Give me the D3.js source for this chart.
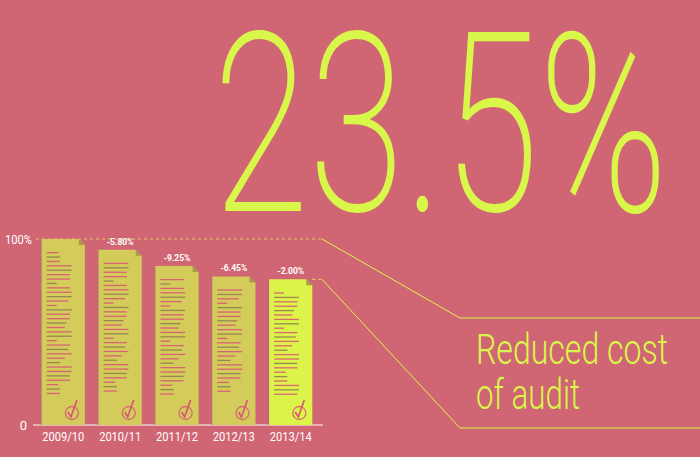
<!DOCTYPE html><html><head><script src="https://cdn.jsdelivr.net/npm/d3@7"></script>
<style>body{margin:0;background:#d06673}svg{display:block}</style></head><body><svg id="c" width="700" height="457"></svg>
<script>
const categories=["2009/10","2010/11","2011/12","2012/13","2013/14"];
const values=[100,94.2,85.5,79.9,78.3];
const changes=["","-5.80%","-9.25%","-6.45%","-2.00%"];
const yTicks=["100%","0"];
const svg=d3.select("#c");
const bg="#d06673",yel="#d9f74a",bar="#d4cc5a";
svg.append("rect").attr("width",700).attr("height",457).attr("fill",bg);
const x=d3.scaleBand().domain(categories).range([36,318]).paddingInner(0.24).paddingOuter(0.1);
const y=d3.scaleLinear().domain([0,100]).range([425,239]);
svg.append("text").attr("x",213).attr("y",211).attr("font-family","Roboto").attr("font-weight",200)
 .attr("font-size",250).attr("fill",yel).attr("textLength",455).attr("lengthAdjust","spacingAndGlyphs").text("23.5%");
[["Reduced cost",364],["of audit",409]].forEach(([t,yy])=>svg.append("text").attr("x",476).attr("y",yy)
 .attr("font-family","Roboto").attr("font-weight",300).attr("font-size",42).attr("fill",yel)
 .attr("textLength",t.length>9?192:104).attr("lengthAdjust","spacingAndGlyphs").text(t));
svg.append("line").attr("x1",36).attr("x2",322).attr("y1",y(100)).attr("y2",y(100)).attr("stroke","#e6c85a").attr("stroke-dasharray","3,3").attr("stroke-width",1.2);
svg.append("polyline").attr("points",`322,${y(100)} 460,318 700,318`).attr("fill","none").attr("stroke",yel).attr("stroke-width",1);
svg.append("line").attr("x1",x(categories[4])+x.bandwidth()).attr("x2",322).attr("y1",y(values[4])).attr("y2",y(values[4])).attr("stroke","#e6c85a").attr("stroke-dasharray","3,3").attr("stroke-width",1.2);
svg.append("polyline").attr("points",`322,${y(values[4])} 460,428 700,428`).attr("fill","none").attr("stroke",yel).attr("stroke-width",1);
svg.append("line").attr("x1",33).attr("x2",323).attr("y1",y(0)).attr("y2",y(0)).attr("stroke","#fff").attr("stroke-width",1);
svg.append("text").attr("x",32).attr("y",y(100)+5).attr("text-anchor","end").attr("fill","#fff").attr("font-family","Roboto").attr("font-size",12).attr("textLength",27).attr("lengthAdjust","spacingAndGlyphs").text(yTicks[0]);
svg.append("text").attr("x",27).attr("y",y(0)+5).attr("text-anchor","end").attr("fill","#fff").attr("font-family","Roboto").attr("font-size",13).text(yTicks[1]);
const lw=[0.35,0.4,0.4,0.75,0.75,0.7,0.7,0.3,0.7,0.75,0.75,0.65,0.3,0.75,0.7,0.7,0.6,0.55,0.75,0.75,0.3,0.7,0.65,0.75,0.55,0.4,0.75,0.75,0.7,0.7];
categories.forEach((c,i)=>{
 const x0=x(c),w=x.bandwidth(),t=y(values[i]),b=y(0);
 const g=svg.append("g");
 const fill=i==4?"#dcf34a":bar;
 g.append("rect").attr("x",x0-2).attr("y",t+2).attr("width",w).attr("height",b-t-2).attr("fill","#b0707a").attr("opacity",0.5);
 g.append("path").attr("d",`M${x0},${t}H${x0+w-6}L${x0+w},${t+6}V${b}H${x0}Z`).attr("fill",fill);
 g.append("path").attr("d",`M${x0+w-6},${t}V${t+6}H${x0+w}Z`).attr("fill","#a89a48");
 const n=Math.floor((b-t-40)/4.4);
 for(let k=0;k<n;k++){const ly=t+13+k*4.4;const f=lw[(k+i*3)%lw.length];
  g.append("rect").attr("x",x0+5).attr("y",ly).attr("width",(w-10)*f).attr("height",1.3).attr("fill",k%3==1?"#8c7a50":"#d9507a").attr("opacity",0.85);}
 const cx=x0+w-13,cy=b-12;
 g.append("circle").attr("cx",cx).attr("cy",cy).attr("r",6.5).attr("fill","none").attr("stroke","#d9507a").attr("stroke-width",1.3).attr("opacity",0.8);
 g.append("path").attr("d",`M${cx-4},${cy-1}L${cx-1},${cy+4}L${cx+5},${cy-13}`).attr("fill","none").attr("stroke","#d9507a").attr("stroke-width",1.6);
 svg.append("text").attr("x",x0+w/2).attr("y",b+16).attr("text-anchor","middle").attr("fill","#fff").attr("font-family","Roboto").attr("font-size",13).attr("textLength",42).attr("lengthAdjust","spacingAndGlyphs").text(c);
 if(changes[i]) svg.append("text").attr("x",x0+w/2).attr("y",t-5).attr("text-anchor","middle").attr("fill","#fff").attr("font-family","Roboto").attr("font-weight",700).attr("font-size",8.5).text(changes[i]);
});
</script></body></html>
